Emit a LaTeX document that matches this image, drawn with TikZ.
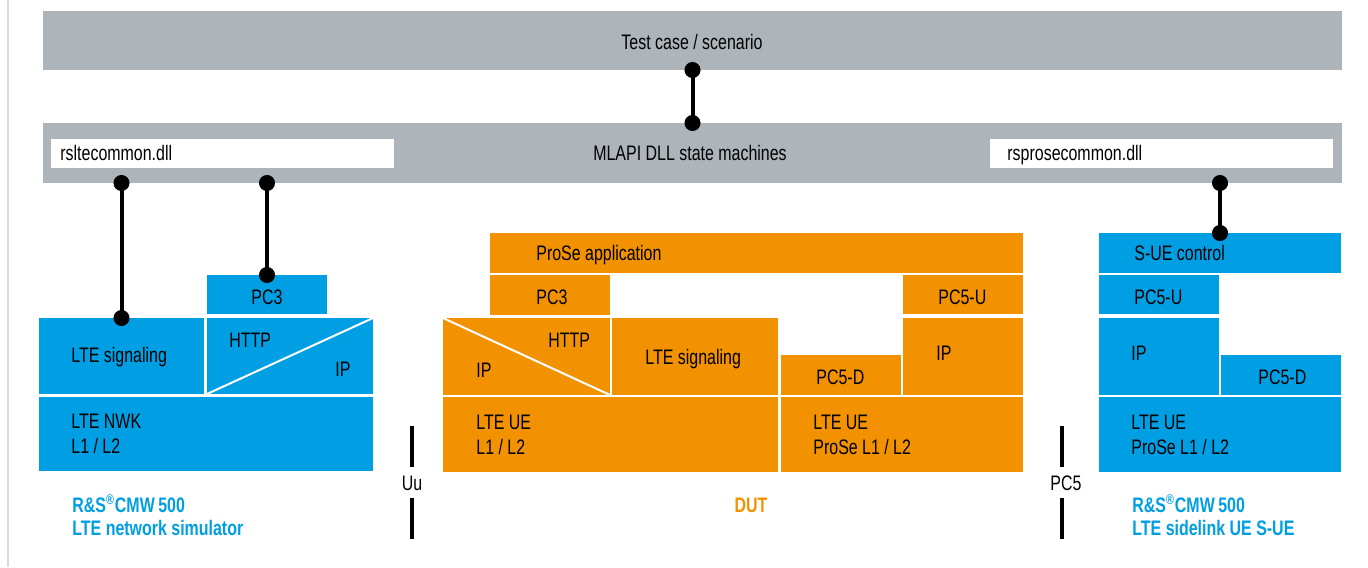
\documentclass[tikz,border=0pt]{standalone}
\usepackage{fontspec}
\setmainfont{Liberation Sans}[FakeStretch=0.76]
\usetikzlibrary{arrows.meta}

\definecolor{rsgrey}{RGB}{173,181,187}
\definecolor{rsblue}{RGB}{0,159,227}
\definecolor{rsorange}{RGB}{243,146,0}
\definecolor{rsframe}{RGB}{214,219,222}

% a filled layer box given by its corners (x1,y1) and (x2,y2) in pixel units
\newcommand{\layerbox}[6]{%
  \node[layer, fill=#1,
        minimum width={(#4-#2)*0.5pt}, minimum height={(#5-#3)*0.5pt}]
        (#6) at ({(#2+#4)/2},{(#3+#5)/2}) {};}

\begin{document}
\begin{tikzpicture}[x={(0.5pt,0)}, y={(0,-0.5pt)},
  layer/.style={draw=none, inner sep=0pt, outer sep=0pt, rectangle},
  lbl/.style={inner sep=0pt, anchor=base west, font=\fontsize{10.5}{12}\selectfont},
  clbl/.style={lbl, anchor=base},
  devlbl/.style={lbl, font=\fontsize{10.5}{12}\selectfont\bfseries, text=rsblue},
  conn/.style={line width=2pt, {Circle[length=8pt]}-{Circle[length=8pt]},
               shorten <=-4pt, shorten >=-4pt},
  ifbar/.style={line width=2pt},
  split/.style={draw=white, line width=1pt}]

\useasboundingbox (0,0) rectangle (1368,567);
\fill[white] (0,0) rectangle (1368,567);
\draw[rsframe, line width=1pt] (7.5,0) -- (7.5,567);

% control layers
\layerbox{rsgrey}{43}{11}{1342}{70}{top}
\layerbox{rsgrey}{43}{123}{1342}{183}{mlapi}
\layerbox{white}{51}{139}{394}{168}{libl}
\layerbox{white}{990}{139}{1333}{168}{libr}
\node[clbl] at (692,49.5) {Test case / scenario};
\node[clbl] at (690,160.5) {MLAPI DLL state machines};
\node[lbl] at (60,160.5) {rsltecommon.dll};
\node[lbl] at (1007,160.5) {rsprosecommon.dll};

% network simulator stack
\layerbox{rsblue}{207}{275}{327}{314}{lpc3}
\layerbox{rsblue}{39}{318}{204}{394}{lsig}
\layerbox{rsblue}{207}{318}{373}{394}{lhttp}
\layerbox{rsblue}{39}{397}{373}{471}{lnwk}
\draw[split] (lhttp.south west) -- (lhttp.north east);
\node[clbl] at (267,304) {PC3};
\node[lbl] at (71,362) {LTE signaling};
\node[lbl] at (229,347) {HTTP};
\node[lbl] at (335,376) {IP};
\node[lbl] at (71,428) {LTE NWK};
\node[lbl] at (71,453) {L1 / L2};
\node[devlbl] at (72,512) {R\&S\textsuperscript{\fontsize{7}{8}\selectfont ®}CMW\,500};
\node[devlbl] at (72,535) {LTE network simulator};

% device under test stack
\layerbox{rsorange}{490}{233}{1023}{273}{app}
\layerbox{rsorange}{490}{275}{610}{315}{dpc3}
\layerbox{rsorange}{443}{318}{610}{395}{dhttp}
\layerbox{rsorange}{612}{318}{778}{395}{dsig}
\layerbox{rsorange}{781}{355}{901}{395}{dpc5d}
\layerbox{rsorange}{903}{275}{1023}{314}{dpc5u}
\layerbox{rsorange}{903}{318}{1023}{395}{dip}
\layerbox{rsorange}{443}{397}{778}{472}{due}
\layerbox{rsorange}{781}{397}{1023}{472}{dpue}
\draw[split] (dhttp.north west) -- (dhttp.south east);
\node[lbl] at (536,260) {ProSe application};
\node[lbl] at (536,304) {PC3};
\node[lbl] at (548,347) {HTTP};
\node[lbl] at (476,377) {IP};
\node[lbl] at (645,364) {LTE signaling};
\node[lbl] at (816,384) {PC5-D};
\node[lbl] at (938,304) {PC5-U};
\node[lbl] at (936,360) {IP};
\node[lbl] at (476,429) {LTE UE};
\node[lbl] at (476,454) {L1 / L2};
\node[lbl] at (813,429) {LTE UE};
\node[lbl] at (813,454) {ProSe L1 / L2};
\node[clbl, font=\fontsize{10.5}{12}\selectfont\bfseries, text=rsorange] at (751,512) {DUT};

% sidelink UE stack
\layerbox{rsblue}{1099}{233}{1341}{273}{sue}
\layerbox{rsblue}{1099}{275}{1219}{314}{spc5u}
\layerbox{rsblue}{1099}{318}{1219}{395}{sip}
\layerbox{rsblue}{1221}{355}{1341}{395}{spc5d}
\layerbox{rsblue}{1099}{397}{1341}{472}{spue}
\node[lbl] at (1134,260) {S-UE control};
\node[lbl] at (1134,304) {PC5-U};
\node[lbl] at (1131,360) {IP};
\node[lbl] at (1258,384) {PC5-D};
\node[lbl] at (1131,429) {LTE UE};
\node[lbl] at (1131,454) {ProSe L1 / L2};
\node[devlbl] at (1132,512) {R\&S\textsuperscript{\fontsize{7}{8}\selectfont ®}CMW\,500};
\node[devlbl] at (1132,535) {LTE sidelink UE S-UE};

% control connections
\draw[conn] (top.south) -- (mlapi.north);
\draw[conn] (mlapi.south -| lsig.north) -- (lsig.north);
\draw[conn] (mlapi.south -| lpc3.north) -- (lpc3.north);
\draw[conn] (mlapi.south -| sue.north) -- (sue.north);

% air interfaces
\node[clbl] (uu) at (412,490) {Uu};
\coordinate (uua) at (412,426); \coordinate (uub) at (412,467);
\coordinate (uuc) at (412,498); \coordinate (uud) at (412,539);
\draw[ifbar] (uua) -- (uub);
\draw[ifbar] (uuc) -- (uud);
\node[clbl] (pc5) at (1066,490) {PC5};
\coordinate (pca) at (1062,426); \coordinate (pcb) at (1062,467);
\coordinate (pcc) at (1062,498); \coordinate (pcd) at (1062,539);
\draw[ifbar] (pca) -- (pcb);
\draw[ifbar] (pcc) -- (pcd);
\end{tikzpicture}
\end{document}
